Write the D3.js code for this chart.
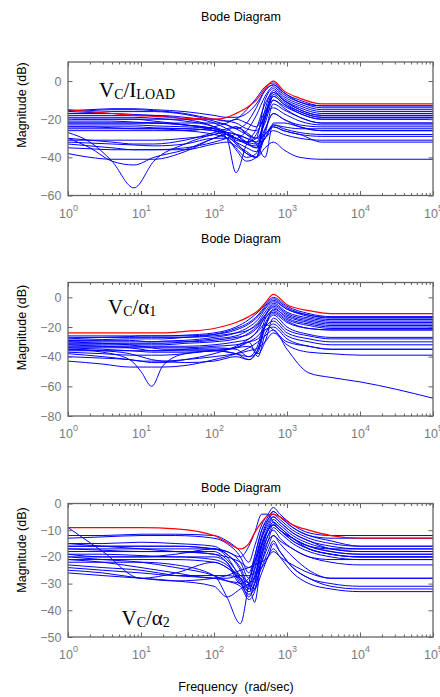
<!DOCTYPE html>
<html>
<head>
<meta charset="utf-8">
<script src="https://cdn.jsdelivr.net/npm/d3@7"></script>
<style>
  body { margin: 0; background: #fff; }
  svg { display: block; }
</style>
</head>
<body>
<div id="chart"></div>
<script>
// ---- data (dB at each grid frequency, rad/sec) ----

// V_C / I_LOAD
const freq1 = [1, 2, 4, 8, 15, 40, 100, 150, 200, 280, 380, 500, 650, 900, 1500, 3000, 1e4, 1e5];
const red1 = [-15, -16, -17, -18, -18.5, -19.5, -20, -19, -17, -14, -10, -4, 0, -5, -9, -12, -12, -12];
const blue1 = [
  [-16, -15.5, -15, -15, -15.5, -17, -20, -21, -20, -15, -9, -3, -1, -6, -10, -13, -13, -13],
  [-17, -16.5, -16, -16, -16, -17.5, -21, -23, -25, -22, -14, -5, -2, -7, -11, -14, -14, -14],
  [-18, -18, -18, -18, -18, -19, -22, -25, -28, -32, -30, -10, -4, -9, -13, -16, -16, -16],
  [-19, -19, -19, -19, -19.5, -21, -24, -27, -32, -38, -40, -18, -6, -10, -14, -17, -17, -17],
  [-20, -20, -20, -20, -21, -23, -26, -30, -35, -40, -38, -15, -5, -10, -15, -18, -18, -18],
  [-21, -21, -21, -21.5, -22, -23, -25, -27, -30, -33, -35, -20, -8, -12, -16, -19, -19, -19],
  [-22, -22, -22, -22, -22, -22, -22, -23, -25, -28, -30, -22, -10, -13, -17, -20, -20, -20],
  [-23, -23, -23, -23, -23.5, -24, -25, -28, -33, -37, -40, -28, -12, -15, -19, -22, -22, -22],
  [-24, -24, -24.5, -25, -25, -25, -26, -28, -31, -32, -28, -18, -14, -17, -21, -23, -23, -23],
  [-25, -25, -25, -25, -25, -26, -28, -30, -36, -42, -40, -26, -17, -20, -23, -24, -24, -24],
  [-27, -32, -42, -56, -42, -33, -28, -27, -28, -30, -32, -20, -8, -12, -17, -20, -20, -20],
  [-30, -35, -42, -44, -40, -36, -30, -28, -30, -33, -34, -25, -17, -20, -24, -26, -26, -26],
  [-31, -31, -31, -31, -31, -30, -28, -26, -24, -27, -30, -28, -23, -25, -27, -28, -28, -28],
  [-32, -32.5, -33, -33.5, -34, -33, -30, -30, -32, -35, -37, -30, -24, -26, -28, -29, -29, -29],
  [-33, -34, -35, -36, -36, -36, -33, -32, -34, -38, -40, -35, -32, -36, -40, -41, -41, -41],
  [-38, -40, -41, -41, -41, -37, -30, -28, -30, -32, -33, -30, -26, -28, -30, -31, -31, -31],
  [-22, -22, -22, -22, -22, -23, -25, -30, -48, -33, -25, -12, -6, -10, -15, -18, -18, -18],
  [-17, -17, -17, -17.5, -18, -20, -24, -28, -30, -26, -18, -8, -3, -8, -12, -15, -15, -15],
  [-26, -26, -26, -26, -26, -26, -24, -22, -20, -22, -24, -16, -10, -14, -19, -22, -22, -22],
  [-20, -20, -20, -20, -20, -20, -20, -21, -22, -25, -26, -18, -7, -11, -16, -19, -19, -19],
  [-24, -24, -24, -24, -24.5, -25, -26, -27, -28, -32, -35, -30, -23, -24, -25, -25, -25, -25],
  [-15.5, -15, -14.5, -14.5, -15, -16, -18, -19, -19, -17, -12, -5, -2, -6, -11, -13, -13, -13],
  [-30, -31, -32, -33, -33, -31, -27, -25, -24, -28, -33, -40, -22, -22, -24, -26, -26, -26],
  [-35, -35.5, -36, -36, -36, -35, -32, -30, -28, -30, -32, -28, -24, -26, -28, -32, -32, -32]
];

// V_C / alpha_1
const freq2 = [1, 3, 7, 10, 14, 20, 40, 100, 200, 300, 400, 500, 650, 1000, 2000, 4000, 1e4, 1e5];
const red2 = [-24, -24, -24, -24, -24, -24, -23, -21, -17, -13, -9, -4, 2, -5, -9, -11, -11, -11];
const blue2 = [
  [-28, -27, -26.5, -26, -26, -26, -25.5, -24, -20, -15, -10, -5, 0, -6, -11, -13, -13, -13],
  [-29, -28.5, -28, -28, -28, -28, -27, -25, -21, -17, -12, -6, -1, -7, -12, -14, -14, -14],
  [-30, -30, -30, -30, -30, -29.5, -29, -27, -24, -20, -15, -8, -3, -8, -13, -15, -15, -15],
  [-31, -31, -31, -31, -31, -31, -30, -28, -26, -22, -17, -10, -4, -10, -14, -16, -16, -16],
  [-32, -32, -32, -32, -32, -32, -31, -30, -28, -24, -19, -12, -5, -11, -15, -17, -17, -17],
  [-33, -33, -33, -33, -33, -33, -33, -32, -30, -28, -22, -13, -6, -12, -16, -18, -18, -18],
  [-34, -34, -34, -34, -34, -34, -34, -33, -32, -30, -28, -20, -8, -13, -17, -19, -19, -19],
  [-27, -27, -27, -27, -27, -27, -27, -26, -24, -22, -18, -12, -7, -14, -18, -20, -20, -20],
  [-36, -36, -36, -36, -36, -36, -35, -34, -35, -40, -32, -15, -9, -15, -19, -21, -21, -21],
  [-37, -38, -39, -39, -39, -39, -38, -36, -38, -42, -35, -20, -12, -20, -25, -27, -27, -27],
  [-30, -31, -32, -33, -34, -35, -35, -35, -34, -33, -38, -30, -14, -22, -26, -28, -28, -28],
  [-35, -37, -42, -50, -60, -46, -38, -36, -34, -30, -26, -20, -16, -24, -28, -30, -30, -30],
  [-43, -45, -47, -47, -47, -47, -46, -42, -38, -34, -30, -26, -22, -35, -51, -54, -57, -68],
  [-38, -40, -42, -43, -44, -44, -42, -38, -33, -28, -23, -18, -22, -30, -33, -35, -35, -35],
  [-40, -41, -42, -43, -43, -43, -42, -40, -38, -36, -34, -30, -24, -32, -37, -38, -39, -39],
  [-29, -29, -29, -29.5, -30, -30, -30, -29, -27, -25, -20, -14, -10, -16, -21, -22, -22, -22],
  [-34, -35, -36, -36.5, -37, -37, -37, -36, -34, -30, -40, -25, -18, -26, -30, -32, -32, -32],
  [-26, -26, -26, -26, -26, -26, -26, -25, -22, -18, -13, -7, -2, -8, -12, -13.5, -13.5, -13.5],
  [-35, -36, -38, -40, -42, -43, -44, -43, -40, -42, -35, -18, -11, -17, -21, -22, -22, -22],
  [-32, -33, -34, -35, -36, -36, -36, -36, -38, -40, -37, -22, -20, -28, -33, -35, -35, -35]
];

// V_C / alpha_2
const freq3 = [1, 3, 10, 30, 100, 150, 230, 300, 360, 450, 550, 650, 800, 1200, 2000, 4000, 1e4, 1e5];
const red3 = [-9, -9, -9, -9.5, -12, -14.5, -17, -15, -11, -7, -4.5, -4, -5, -8, -10, -12, -13, -13];
const blue3 = [
  [-12, -12, -11.5, -11.5, -12, -14, -18, -22, -16, -8, -4, -1.5, -4, -8, -11, -12, -12, -12],
  [-13, -12.5, -12, -12, -13, -15, -20, -26, -20, -10, -5, -3, -5, -9, -12, -14, -16, -16],
  [-15, -15, -14.5, -15, -16, -19, -24, -30, -24, -13, -7, -5, -7, -11, -14, -16, -17, -17],
  [-16, -16, -16, -16, -17, -19, -25, -32, -28, -15, -9, -6, -8, -12, -15, -17, -18, -18],
  [-17, -17, -17, -17, -17, -20, -28, -33, -30, -18, -10, -7, -9, -13, -16, -18, -19, -19],
  [-18, -18, -18, -18, -18, -21, -27, -30, -37, -20, -12, -8, -10, -14, -17, -19, -20, -20],
  [-19, -19, -19.5, -20, -20, -22, -30, -34, -32, -22, -14, -9, -11, -15, -18, -20, -21, -21],
  [-20, -20, -20, -20, -21, -23, -28, -32, -27, -18, -12, -10, -13, -17, -20, -22, -23, -23],
  [-9, -18, -28, -26, -22, -24, -28, -31, -25, -16, -10, -8, -10, -14, -17, -19, -20, -20],
  [-22, -22, -22, -23, -27, -35, -45, -30, -20, -10, -6, -4, -6, -10, -13, -15, -16, -16],
  [-26, -27, -28, -29, -31, -35, -32, -30, -28, -22, -16, -12, -15, -20, -25, -28, -28, -28],
  [-23, -24, -25, -27, -28, -29, -30, -33, -30, -24, -18, -14, -18, -24, -28, -30, -31, -31],
  [-24, -25, -26, -27, -27, -27, -28, -30, -32, -26, -20, -17, -20, -26, -30, -32, -33, -33],
  [-21, -22, -24, -26, -28, -28, -27, -27, -26, -24, -20, -15, -18, -24, -28, -31, -32, -32],
  [-16, -16, -16, -16, -17, -18, -20, -16, -11, -4, -4, -7, -10, -13, -16, -18, -19, -19],
  [-20, -21, -22, -24, -27, -29, -31, -36, -33, -20, -14, -12, -14, -17, -20, -21, -21, -21],
  [-25, -26, -28, -29, -28, -27, -25, -24, -23, -22, -20, -18, -20, -23, -26, -28, -28, -28],
  [-17, -17.5, -18, -18, -19, -22, -30, -28, -22, -13, -8, -5, -7, -11, -14, -17, -18, -18],
  [-15, -16, -17, -18, -19, -20, -22, -24, -22, -15, -10, -8, -10, -13, -16, -17, -17, -17],
  [-21, -21, -21, -21, -22, -24, -29, -35, -30, -16, -10, -7, -9, -13, -17, -19, -20, -20],
  [-19, -20, -20, -19, -17, -18, -22, -28, -22, -12, -6, -3, -5, -9, -12, -13, -13, -13]
];

const xMajor = [1, 10, 100, 1e3, 1e4, 1e5];
const yTicks1 = [-60, -40, -20, 0];
const yTicks2 = [-80, -60, -40, -20, 0];
const yTicks3 = [-50, -40, -30, -20, -10, 0];

// ---- layout ----
const W = 440, H = 697;
const left = 68, right = 433, plotH = 133.5;
const frameColor = "#646464", labelColor = "#7a7a7a";

const svg = d3.select("#chart").append("svg")
  .attr("width", W).attr("height", H)
  .style("font-family", "'Liberation Sans', Arial, sans-serif");

const x = d3.scaleLog().domain([1, 1e5]).range([0, right - left]);

const xMinor = [];
for (let k = 0; k < 5; k++) for (let m = 2; m <= 9; m++) xMinor.push(m * Math.pow(10, k));

const panels = [
  { freq: freq1, red: red1, blue: blue1, domain: [-60, 10], yTicks: yTicks1, top: 62, titleY: 20.5, labelY: 105,
    note: { x: 99, y: 97.3, parts: [["V", 0], ["C", 1], ["/I", 0], ["LOAD", 1]] } },
  { freq: freq2, red: red2, blue: blue2, domain: [-80, 10], yTicks: yTicks2, top: 282.5, titleY: 242.5, labelY: 327.5,
    note: { x: 108, y: 314, parts: [["V", 0], ["C", 1], ["/α", 0], ["1", 1]] } },
  { freq: freq3, red: red3, blue: blue3, domain: [-50, 0], yTicks: yTicks3, top: 503.5, titleY: 491.5, labelY: 550,
    note: { x: 121.5, y: 625, parts: [["V", 0], ["C", 1], ["/α", 0], ["2", 1]] } }
];

panels.forEach((p, pi) => {
  const y = d3.scaleLinear().domain(p.domain).range([plotH, 0]);
  const w = right - left;

  // title and y label
  svg.append("text")
    .attr("x", 241).attr("y", p.titleY)
    .attr("text-anchor", "middle").attr("font-size", 12.5).attr("fill", "#000")
    .text("Bode Diagram");
  svg.append("text")
    .attr("transform", `translate(26,${p.labelY}) rotate(-90)`)
    .attr("text-anchor", "middle").attr("font-size", 12.5).attr("fill", "#000")
    .text("Magnitude (dB)");

  const g = svg.append("g").attr("transform", `translate(${left},${p.top})`);

  g.append("clipPath").attr("id", "clip" + pi)
    .append("rect").attr("width", w).attr("height", plotH);

  // curves
  const line = d3.line()
    .x((d, i) => x(p.freq[i]))
    .y(d => y(d))
    .curve(d3.curveMonotoneX);

  const curves = g.append("g").attr("clip-path", `url(#clip${pi})`);
  curves.selectAll("path.blue")
    .data(p.blue)
    .join("path")
    .attr("class", "blue")
    .attr("d", line)
    .attr("fill", "none")
    .attr("stroke", "#0000ff")
    .attr("stroke-width", 1);
  curves.append("path")
    .datum(p.red)
    .attr("d", line)
    .attr("fill", "none")
    .attr("stroke", "#ff0000")
    .attr("stroke-width", 1.2);

  // axes, ticks inside on all four sides
  const styleAxis = sel => {
    sel.select(".domain").remove();
    sel.selectAll(".tick line").attr("stroke", frameColor);
    sel.selectAll(".tick text").attr("fill", labelColor).attr("font-size", 12.5);
  };

  g.append("g").attr("transform", `translate(0,${plotH})`)
    .call(d3.axisBottom(x).tickValues(xMinor).tickSize(-2.5).tickFormat(""))
    .call(styleAxis);
  g.append("g")
    .call(d3.axisTop(x).tickValues(xMinor).tickSize(-2.5).tickFormat(""))
    .call(styleAxis);
  g.append("g")
    .call(d3.axisTop(x).tickValues(xMajor).tickSize(-4.5).tickFormat(""))
    .call(styleAxis);

  const xAxis = g.append("g").attr("transform", `translate(0,${plotH})`)
    .call(d3.axisBottom(x).tickValues(xMajor).tickSize(-4.5))
    .call(styleAxis);
  xAxis.selectAll(".tick text").each(function (d) {
    const t = d3.select(this);
    t.text(null).attr("y", 22).attr("dy", null);
    t.append("tspan").text("10");
    t.append("tspan").attr("dy", -7).attr("font-size", 9).text(Math.round(Math.log10(d)));
  });

  g.append("g")
    .call(d3.axisLeft(y).tickValues(p.yTicks).tickSize(-4.5).tickPadding(6.5).tickFormat(d3.format("d")))
    .call(styleAxis);
  g.append("g").attr("transform", `translate(${w},0)`)
    .call(d3.axisRight(y).tickValues(p.yTicks).tickSize(-4.5).tickFormat(""))
    .call(styleAxis);

  // frame
  g.append("rect")
    .attr("width", w).attr("height", plotH)
    .attr("fill", "none").attr("stroke", frameColor).attr("stroke-width", 1.3);

  // transfer function label
  const note = svg.append("text")
    .attr("x", p.note.x).attr("y", p.note.y)
    .attr("font-family", "'Liberation Serif', 'Times New Roman', serif")
    .attr("fill", "#000");
  let sub = 0;
  p.note.parts.forEach(([txt, s]) => {
    note.append("tspan")
      .attr("font-size", s ? 14 : 21)
      .attr("dy", s === sub ? 0 : (s ? 2 : -2))
      .text(txt);
    sub = s;
  });
});

// x label (two spaces, as in the original)
svg.append("text")
  .attr("x", 236).attr("y", 690.5)
  .attr("text-anchor", "middle").attr("font-size", 12.5).attr("fill", "#000")
  .text("Frequency\u00a0\u00a0(rad/sec)");
</script>
</body>
</html>
